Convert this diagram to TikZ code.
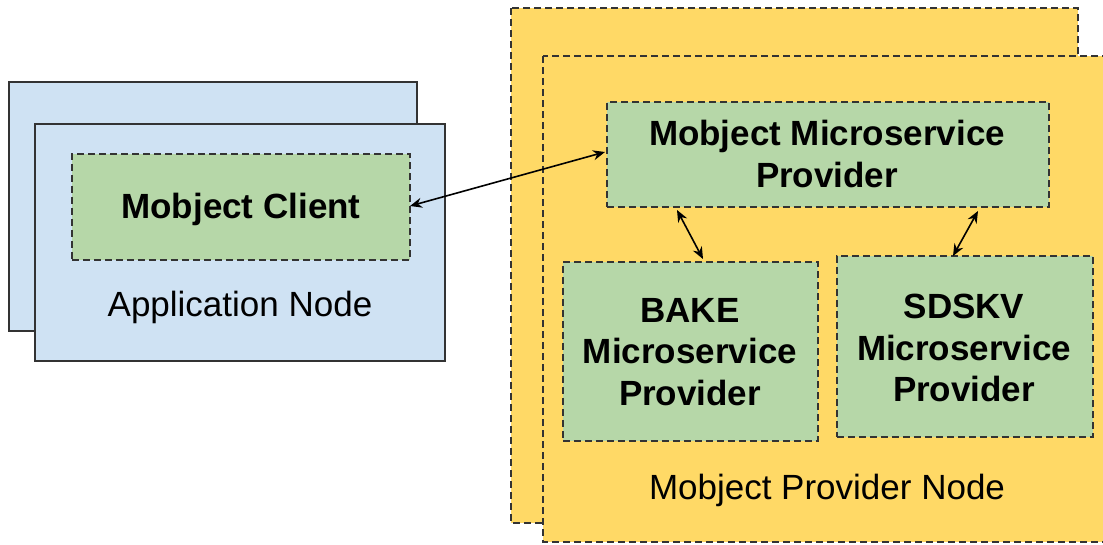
\documentclass[tikz,border=0pt]{standalone}
\usepackage{fontspec}
\setmainfont{Liberation Sans}
\usetikzlibrary{arrows.meta}
\definecolor{appblue}{HTML}{CFE2F3}
\definecolor{svcgreen}{HTML}{B6D7A8}
\definecolor{provyellow}{HTML}{FFD966}
\definecolor{edge}{HTML}{333333}
\tikzset{
  appbox/.style={draw=edge, line width=1.8pt, fill=appblue},
  provbox/.style={draw=edge, line width=1.8pt, fill=provyellow, dash pattern=on 7pt off 4pt},
  svcbox/.style={draw=edge, line width=1.8pt, fill=svcgreen, dash pattern=on 7pt off 4pt},
  boldlabel/.style={font=\fontsize{35}{41.5}\selectfont\bfseries, align=center, text=black},
  plainlabel/.style={font=\fontsize{35}{41.5}\selectfont, align=center, text=black},
  link/.style={line width=1.6pt, draw=black, {Stealth[length=12pt,width=10pt]}-{Stealth[length=12pt,width=10pt]}}
}
\begin{document}
\begin{tikzpicture}[x=1pt,y=-1pt]
\useasboundingbox (0,0) rectangle (1103,544);
% application node stack
\draw[appbox] (9,82) rectangle (417,331);
\draw[appbox] (35,124) rectangle (445,361);
\node[svcbox, minimum width=338pt, minimum height=106pt, anchor=north west, inner sep=0pt] (client) at (71,153) {};
\node[boldlabel] (clienttext) at (241,209) {Mobject Client};
\node[plainlabel] (apptext) at (240,307) {Application Node};
% provider node stack
\draw[provbox] (511,8) rectangle (1078,523);
\draw[provbox] (543,56) rectangle (1110,542);
\node[svcbox, minimum width=442pt, minimum height=105pt, anchor=north west, inner sep=0pt] (mmp) at (606,101) {};
\node[boldlabel] (mmptext) at (827,154) {Mobject Microservice\\Provider};
\node[svcbox, minimum width=255pt, minimum height=179pt, anchor=north west, inner sep=0pt] (bake) at (562,261) {};
\node[boldlabel] (baketext) at (690,352) {BAKE\\Microservice\\Provider};
\node[svcbox, minimum width=256pt, minimum height=181pt, anchor=north west, inner sep=0pt] (sdskv) at (836,255) {};
\node[boldlabel] (sdskvtext) at (964,348) {SDSKV\\Microservice\\Provider};
\node[plainlabel] (provtext) at (827,490) {Mobject Provider Node};
% connectors
\coordinate (c1) at (410,206);
\coordinate (m1) at (605,152);
\coordinate (m2) at (677,210);
\coordinate (b1) at (703,259);
\coordinate (m3) at (978,211);
\coordinate (s1) at (953,256);
\draw[link] (c1) -- (m1);
\draw[link] (m2) -- (b1);
\draw[link] (m3) -- (s1);
\end{tikzpicture}
\end{document}
